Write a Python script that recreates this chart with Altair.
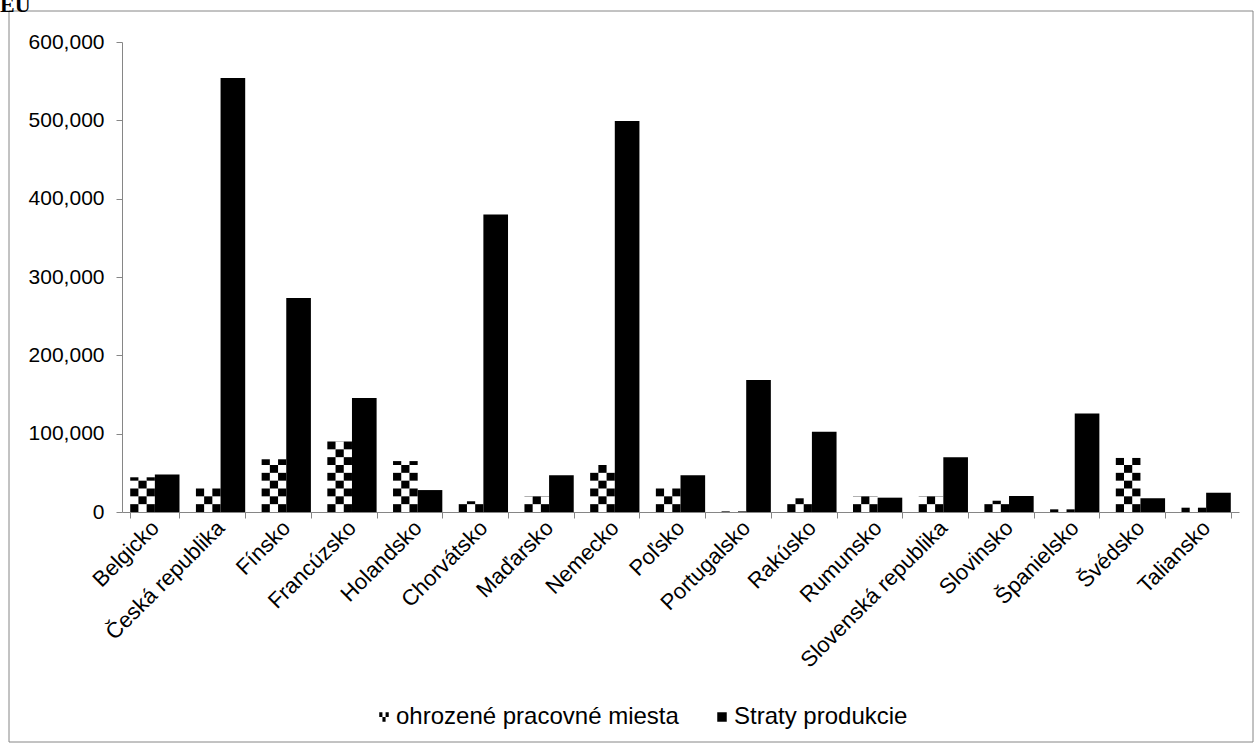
import altair as alt
import pandas as pd

# Countries and the two series (values in EUR)
countries = [
    "Belgicko", "Česká republika", "Fínsko", "Francúzsko", "Holandsko",
    "Chorvátsko", "Maďarsko", "Nemecko", "Poľsko", "Portugalsko", "Rakúsko",
    "Rumunsko", "Slovenská republika", "Slovinsko", "Španielsko", "Švédsko",
    "Taliansko",
]
jobs = [44300, 30000, 67300, 90300, 65000, 13700, 20400, 60000, 30000,
        800, 17500, 20400, 20400, 14400, 3400, 69000, 5500]
losses = [48000, 554000, 273300, 145500, 28000, 379700, 46800, 499100, 46800,
          168400, 102400, 18300, 69800, 20400, 125900, 17500, 24600]
series_names = ["ohrozené pracovné miesta", "Straty produkcie"]
y_ticks = [0, 100000, 200000, 300000, 400000, 500000, 600000]

FONT = "Liberation Sans"
GRAY = "#868686"
W, H = 1117, 470
CHECK = 10000          # height of one checker cell, in data units
CHECK_COLS = ["c0", "c1", "c2"]
SLOTS = CHECK_COLS + ["b0", "b1", "b2"]

loss_df = pd.DataFrame({"country": countries, "value": losses,
                        "series": series_names[1]})

# checkerboard cells that make up the patterned bars
cells = []
for c, v in zip(countries, jobs):
    k = 0
    while k * CHECK < v:
        for i, slot in enumerate(CHECK_COLS):
            if (k + i) % 2 == 0:
                cells.append({"country": c, "slot": slot,
                              "y0": k * CHECK,
                              "y1": min((k + 1) * CHECK, v)})
        k += 1
cell_df = pd.DataFrame(cells)

x_enc = alt.X(
    "country:N", sort=countries,
    scale=alt.Scale(paddingInner=0.25, paddingOuter=0.125),
    axis=alt.Axis(title=None, labelAngle=-45, labelAlign="right",
                  labelBaseline="middle", labelFont=FONT, labelFontSize=22,
                  labelColor="black", labelPadding=6, tickBand="extent",
                  tickSize=6, tickColor=GRAY, domainColor=GRAY, labelLimit=400),
)
y_scale = alt.Scale(domain=[0, 600000], nice=False)
y_axis = alt.Axis(title=None, values=y_ticks, format=",.0f", grid=False,
                  labelFont=FONT, labelFontSize=21, labelColor="black",
                  labelPadding=12, tickSize=6, tickColor=GRAY, domainColor=GRAY)

frame = alt.Chart(alt.Data(values=[{}])).mark_rect(
    fill="white", fillOpacity=0, stroke=GRAY, strokeWidth=1
).encode(x=alt.value(-113), x2=alt.value(1131),
         y=alt.value(-31), y2=alt.value(700))

loss_bars = alt.Chart(loss_df).mark_bar(color="black").encode(
    x=x_enc,
    xOffset=alt.XOffset("series:N",
                        scale=alt.Scale(domain=series_names,
                                        paddingInner=0, paddingOuter=0)),
    y=alt.Y("value:Q", scale=y_scale, axis=y_axis),
)

check_bars = alt.Chart(cell_df).mark_bar(color="black").encode(
    x=x_enc,
    xOffset=alt.XOffset("slot:N",
                        scale=alt.Scale(domain=SLOTS,
                                        paddingInner=0, paddingOuter=0)),
    y=alt.Y("y0:Q", scale=y_scale, axis=y_axis),
    y2="y1:Q",
)

# legend-only layer: invisible points whose shapes drive the legend
checker_path = ("M-1,-1H-0.333V0H-1Z M0.333,-1H1V0H0.333Z "
                "M-0.333,0H0.333V1H-0.333Z")
legend_df = pd.DataFrame({"series": series_names})
legend_pts = alt.Chart(legend_df).mark_point(
    filled=True, color="black", opacity=0, size=1
).encode(
    shape=alt.Shape(
        "series:N",
        scale=alt.Scale(domain=series_names, range=[checker_path, "square"]),
        legend=alt.Legend(
            title=None, orient="none", direction="horizontal",
            legendX=250, legendY=663, labelFont=FONT, labelFontSize=24,
            labelColor="black", symbolSize=90, symbolOpacity=1,
            symbolFillColor="black", symbolStrokeWidth=0, labelOffset=0,
            columnPadding=31, padding=0, labelLimit=500,
        ),
    ),
)

chart = alt.layer(frame, check_bars, loss_bars, legend_pts).resolve_scale(
    xOffset="independent"
).properties(
    width=W, height=H,
    autosize=alt.AutoSizeParams(type="none"),
    padding={"left": 122, "top": 42, "right": 16, "bottom": 232},
    title=alt.TitleParams("EU", font="Liberation Serif", fontSize=22,
                          fontWeight="bold", anchor="start", frame="group",
                          dx=-122, dy=10, color="black"),
).configure_view(stroke=None)

chart.save("out.html", embed_options={"renderer": "svg", "actions": False})
